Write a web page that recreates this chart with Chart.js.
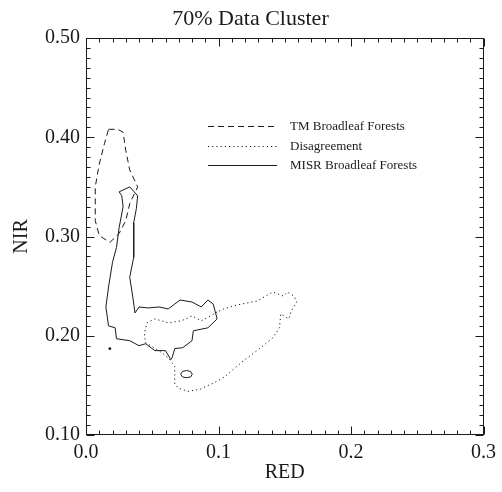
<!DOCTYPE html>
<html>
<head>
<meta charset="utf-8">
<title>70% Data Cluster</title>
<script src="https://cdn.jsdelivr.net/npm/chart.js@4.4.1/dist/chart.umd.min.js"></script>
<style>
  html, body { margin: 0; padding: 0; background: #fff; }
  #contenedor { width: 502px; height: 492px; }
</style>
</head>
<body>
<div id="contenedor"><canvas id="myChart" width="502" height="492"></canvas></div>
<script>
const titulo = "70% Data Cluster";
const tituloX = "RED";
const tituloY = "NIR";

// contorno TM (linea de guiones)
const tmX = [0.017, 0.024, 0.028, 0.030, 0.033, 0.039, 0.033, 0.030, 0.025, 0.018, 0.010, 0.007, 0.007, 0.010, 0.014, 0.017];
const tmY = [0.408, 0.408, 0.405, 0.387, 0.367, 0.350, 0.333, 0.316, 0.303, 0.294, 0.301, 0.316, 0.350, 0.373, 0.394, 0.408];

// contorno de desacuerdo (linea punteada)
const desX = [0.099, 0.094, 0.087, 0.080, 0.072, 0.062, 0.052, 0.046, 0.044, 0.045, 0.055, 0.062, 0.067, 0.067, 0.070, 0.077, 0.086, 0.097, 0.104, 0.119, 0.131, 0.141, 0.146, 0.147, 0.153, 0.155, 0.159, 0.157, 0.152, 0.149, 0.141, 0.129, 0.114, 0.104, 0.099];
const desY = [0.224, 0.220, 0.215, 0.220, 0.215, 0.213, 0.217, 0.213, 0.202, 0.193, 0.185, 0.178, 0.169, 0.151, 0.147, 0.144, 0.146, 0.153, 0.158, 0.175, 0.187, 0.198, 0.208, 0.222, 0.217, 0.225, 0.234, 0.240, 0.244, 0.240, 0.244, 0.235, 0.231, 0.227, 0.224];

// contorno MISR (linea continua)
const misrX = [0.025, 0.033, 0.039, 0.038, 0.036, 0.036, 0.033, 0.035, 0.037, 0.040, 0.047, 0.055, 0.062, 0.071, 0.080, 0.087, 0.092, 0.096, 0.099, 0.092, 0.081, 0.080, 0.073, 0.067, 0.065, 0.064, 0.060, 0.052, 0.045, 0.040, 0.033, 0.023, 0.022, 0.017, 0.015, 0.017, 0.020, 0.023, 0.025, 0.028, 0.027, 0.025];
const misrY = [0.345, 0.350, 0.341, 0.328, 0.314, 0.279, 0.259, 0.242, 0.223, 0.229, 0.228, 0.229, 0.227, 0.236, 0.234, 0.229, 0.236, 0.232, 0.217, 0.208, 0.205, 0.195, 0.188, 0.187, 0.178, 0.176, 0.185, 0.185, 0.192, 0.190, 0.195, 0.197, 0.208, 0.210, 0.229, 0.249, 0.274, 0.289, 0.309, 0.330, 0.341, 0.345];

// islita MISR y punto suelto
const islaX = [0.0714, 0.0728, 0.0758, 0.0790, 0.0802, 0.0790, 0.0758, 0.0728, 0.0714];
const islaY = [0.1613, 0.1640, 0.1650, 0.1640, 0.1613, 0.1585, 0.1577, 0.1585, 0.1613];
const puntoX = [0.018];
const puntoY = [0.187];

const etiquetas = ["TM Broadleaf Forests", "Disagreement", "MISR Broadleaf Forests"];

const fuente = "'Liberation Serif', 'DejaVu Serif', serif";
const tinta = "#1a1a1a";

//funcion que junta dos listas en puntos {x, y}
function juntar(xs, ys) {
  return xs.map((x, i) => ({ x: x, y: ys[i] }));
}

const linea = (datos, guion, etiqueta) => ({
  label: etiqueta,
  data: datos,
  showLine: true,
  borderColor: tinta,
  borderWidth: 1,
  borderDash: guion,
  pointRadius: 0,
  fill: false,
  tension: 0,
});

const datasets = [
  linea(juntar(tmX, tmY), [6, 4], etiquetas[0]),
  linea(juntar(desX, desY), [1.2, 3], etiquetas[1]),
  linea(juntar(misrX, misrY), [], etiquetas[2]),
  linea(juntar(islaX, islaY), [], ""),
  {
    label: "",
    data: juntar(puntoX, puntoY),
    showLine: false,
    pointRadius: 1.4,
    pointBackgroundColor: tinta,
    pointBorderWidth: 0,
  },
];

//plugin que dibuja el marco y las marcas hacia adentro
const cuadro = {
  id: "cuadro",
  afterDatasetsDraw(chart) {
    const { ctx, chartArea: a, scales } = chart;
    ctx.save();
    ctx.strokeStyle = tinta;
    ctx.lineWidth = 1;
    const l = Math.round(a.left) + 0.5, r = Math.round(a.right) - 0.5;
    const t = Math.round(a.top) + 0.5, b = Math.round(a.bottom) - 0.5;
    ctx.strokeRect(l, t, r - l, b - t);
    ctx.beginPath();
    scales.x.ticks.forEach((tick, i) => {
      const px = Math.round(scales.x.getPixelForTick(i)) + 0.5;
      const largo = tick.label ? 8 : 4;
      ctx.moveTo(px, b); ctx.lineTo(px, b - largo);
      ctx.moveTo(px, t); ctx.lineTo(px, t + largo);
    });
    scales.y.ticks.forEach((tick, i) => {
      const py = Math.round(scales.y.getPixelForTick(i)) + 0.5;
      const largo = tick.label ? 8 : 4;
      ctx.moveTo(l, py); ctx.lineTo(l + largo, py);
      ctx.moveTo(r, py); ctx.lineTo(r - largo, py);
    });
    ctx.stroke();
    ctx.restore();
  },
};

//plugin que dibuja la leyenda dentro del area
const leyenda = {
  id: "leyenda",
  afterDatasetsDraw(chart) {
    const { ctx, chartArea: a } = chart;
    ctx.save();
    ctx.font = "13px " + fuente;
    ctx.fillStyle = tinta;
    ctx.textBaseline = "middle";
    for (let i = 0; i < 3; i++) {
      const ds = chart.data.datasets[i];
      const yy = Math.round(a.top + 88 + i * 19.5) + 0.5;
      ctx.strokeStyle = tinta;
      ctx.lineWidth = 1;
      ctx.setLineDash(ds.borderDash);
      ctx.beginPath();
      ctx.moveTo(a.left + 122, yy);
      ctx.lineTo(a.left + 191, yy);
      ctx.stroke();
      ctx.fillText(ds.label, a.left + 204, yy);
    }
    ctx.restore();
  },
};

function etiquetaX(valor) {
  const v = Math.round(valor * 100);
  return v % 10 === 0 ? (v / 100).toFixed(1) : "";
}
function etiquetaY(valor) {
  const v = Math.round(valor * 100);
  return v % 10 === 0 ? (v / 100).toFixed(2) : "";
}

const config = {
  type: "scatter",
  data: { datasets },
  options: {
    responsive: false,
    animation: false,
    layout: { autoPadding: false, padding: { left: 10, right: 11, top: 0, bottom: 7 } },
    plugins: {
      legend: { display: false },
      tooltip: { enabled: false },
      title: {
        display: true,
        text: titulo,
        color: tinta,
        font: { family: fuente, size: 22, weight: "normal" },
        padding: { top: 6, bottom: 5.6 },
      },
    },
    scales: {
      x: {
        type: "linear",
        min: 0,
        max: 0.3,
        afterFit: (s) => { s.height = 50; },
        grid: { display: false, drawTicks: false },
        border: { display: false },
        ticks: {
          stepSize: 0.01,
          autoSkip: false,
          maxRotation: 0,
          minRotation: 0,
          padding: 6,
          color: tinta,
          font: { family: fuente, size: 20 },
          callback: etiquetaX,
        },
        title: { display: true, text: tituloX, color: tinta, font: { family: fuente, size: 20 }, padding: 0 },
      },
      y: {
        type: "linear",
        min: 0.1,
        max: 0.5,
        afterFit: (s) => { s.width = 76; },
        grid: { display: false, drawTicks: false },
        border: { display: false },
        ticks: {
          stepSize: 0.01,
          autoSkip: false,
          padding: 6,
          color: tinta,
          font: { family: fuente, size: 20 },
          callback: etiquetaY,
        },
        title: { display: true, text: tituloY, color: tinta, font: { family: fuente, size: 20 }, padding: 0 },
      },
    },
  },
  plugins: [cuadro, leyenda],
};

const myChart = document.getElementById("myChart");
new Chart(myChart, config);
</script>
</body>
</html>
